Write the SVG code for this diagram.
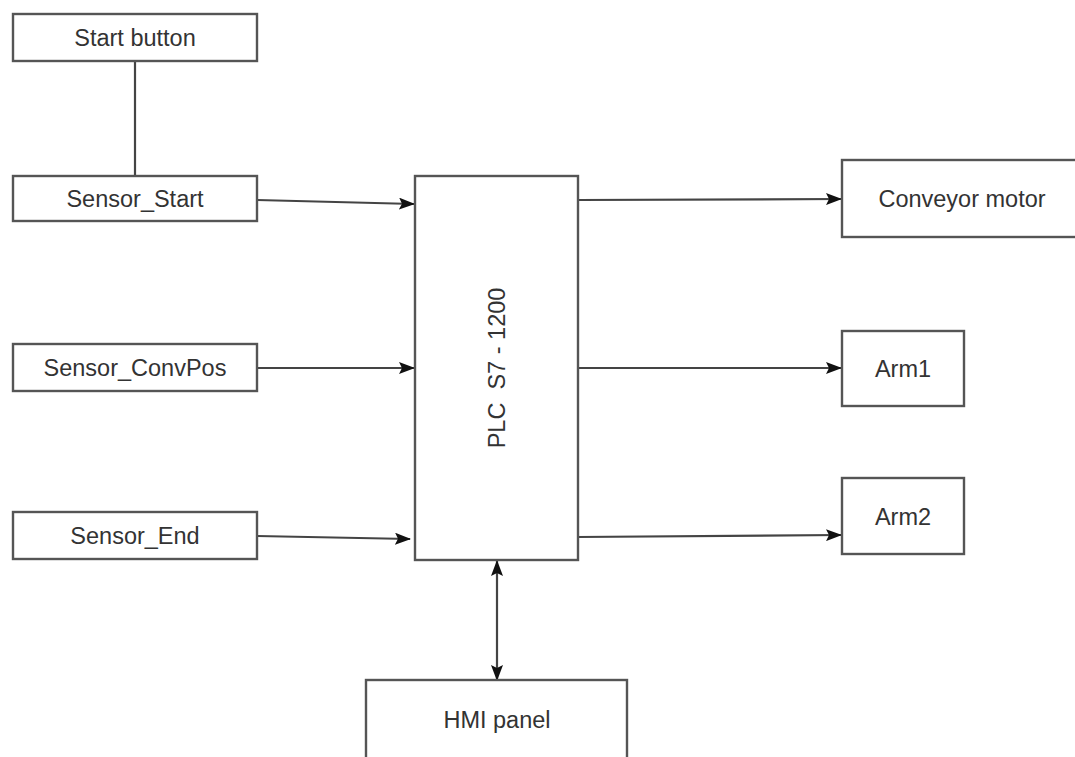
<svg xmlns="http://www.w3.org/2000/svg" width="1075" height="757" viewBox="0 0 1075 757">
<defs>
<style>
.box{fill:#fff;stroke:#555;stroke-width:2.4}
.lbl{font-family:"Liberation Sans",Arial,sans-serif;font-size:23.5px;fill:#333;text-anchor:middle;dominant-baseline:central}
.con{fill:none;stroke:#444;stroke-width:2.2}
</style>
<marker id="ah" viewBox="0 0 16 12" refX="15" refY="6" markerWidth="16" markerHeight="12" markerUnits="userSpaceOnUse" orient="auto-start-reverse">
<path d="M0,0 L16,6 L0,12 L3,6 Z" fill="#111"/>
</marker>
</defs>
<rect width="1075" height="757" fill="#fff"/>
<g id="connectors">
<line class="con" x1="257" y1="200" x2="414" y2="204" marker-end="url(#ah)"/>
<line class="con" x1="135" y1="61" x2="135" y2="176"/>
<line class="con" x1="257" y1="368" x2="414" y2="368" marker-end="url(#ah)"/>
<line class="con" x1="257" y1="536" x2="410" y2="539" marker-end="url(#ah)"/>
<line class="con" x1="578" y1="200" x2="841" y2="199" marker-end="url(#ah)"/>
<line class="con" x1="578" y1="368" x2="841" y2="368" marker-end="url(#ah)"/>
<line class="con" x1="578" y1="537" x2="841" y2="535" marker-end="url(#ah)"/>
<line class="con" x1="497" y1="561" x2="497" y2="680" marker-start="url(#ah)" marker-end="url(#ah)"/>
</g>
<g id="start-button"><rect class="box" x="13" y="14" width="244" height="47"/><text class="lbl" x="135" y="38">Start button</text></g>
<g id="sensor-start"><rect class="box" x="13" y="176" width="244" height="45"/><text class="lbl" x="135" y="199">Sensor_Start</text></g>
<g id="sensor-convpos"><rect class="box" x="13" y="344" width="244" height="47"/><text class="lbl" x="135" y="368">Sensor_ConvPos</text></g>
<g id="sensor-end"><rect class="box" x="13" y="512" width="244" height="47"/><text class="lbl" x="135" y="536">Sensor_End</text></g>
<g id="plc"><rect class="box" x="415" y="176" width="163" height="384"/><text class="lbl" transform="translate(497,368) rotate(-90)" x="0" y="0" xml:space="preserve">PLC  S7 - 1200</text></g>
<g id="conveyor-motor"><rect class="box" x="842" y="160" width="240" height="77"/><text class="lbl" x="962" y="199">Conveyor motor</text></g>
<g id="arm1"><rect class="box" x="842" y="331" width="122" height="75"/><text class="lbl" x="903" y="369">Arm1</text></g>
<g id="arm2"><rect class="box" x="842" y="478" width="122" height="76"/><text class="lbl" x="903" y="517">Arm2</text></g>
<g id="hmi-panel"><rect class="box" x="366" y="680" width="261" height="90"/><text class="lbl" x="497" y="720">HMI panel</text></g>
</svg>
